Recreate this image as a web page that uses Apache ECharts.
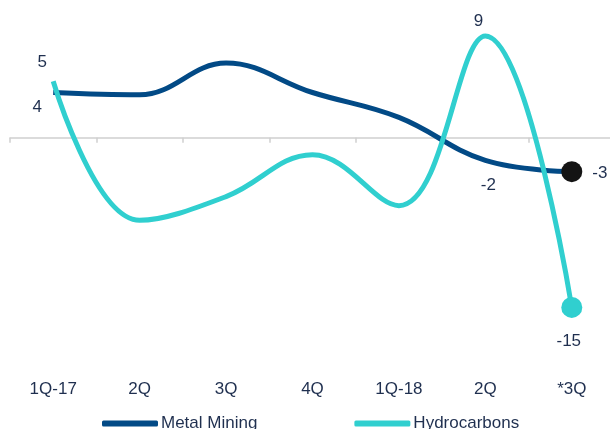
<!DOCTYPE html>
<html>
<head>
<meta charset="utf-8">
<script src="https://cdn.jsdelivr.net/npm/echarts@6/dist/echarts.min.js"></script>
<style>
  html, body { margin: 0; padding: 0; background: #ffffff; }
  #chart { width: 610px; height: 429px; }
</style>
</head>
<body>
<div id="chart"></div>
<script>
// Quarterly change, by segment
var categories = ['1Q-17', '2Q', '3Q', '4Q', '1Q-18', '2Q', '*3Q'];
var metalMining = [4, 3.8, 6.6, 4, 1.8, -2, -3];
var hydrocarbons = [5, -7.3, -5.2, -1.5, -6, 9, -15];

// Which points carry a value label, and where it sits relative to the point
var metalLabels = { 0: [-16, 15], 5: [3, 25], 6: [28, 2] };
var hydroLabels = { 0: [-11, -19], 5: [-7, -15], 6: [-3, 34] };

var textColor = '#1f2f4f';
var font = 'Liberation Sans, Arial, sans-serif';

function buildData(values, labels, endColor) {
  return values.map(function (v, i) {
    var item = { value: v };
    var last = i === values.length - 1;
    item.symbolSize = last ? 21 : 0;
    if (last) item.itemStyle = { color: endColor, opacity: 1 };
    if (labels[i]) {
      item.label = {
        show: true,
        position: 'inside',
        offset: labels[i],
        align: 'center',
        verticalAlign: 'middle',
        formatter: String(v),
        color: textColor,
        fontSize: 17,
        fontFamily: font
      };
    }
    return item;
  });
}

var chart = echarts.init(document.getElementById('chart'), null, { renderer: 'canvas' });
chart.setOption({
  animation: false,
  backgroundColor: '#ffffff',
  grid: { left: 10, width: 605, top: 2, height: 362, containLabel: false, outerBoundsMode: 'none' },
  xAxis: [
    {
      type: 'category',
      data: categories,
      position: 'bottom',
      axisLine: { show: true, onZero: true, lineStyle: { color: '#d0d0d0', width: 1.5 } },
      axisTick: { show: true, length: 5, lineStyle: { color: '#d0d0d0', width: 1.5 } },
      axisLabel: { show: false },
      splitLine: { show: false }
    },
    {
      type: 'category',
      data: categories,
      position: 'bottom',
      axisLine: { show: false, onZero: false },
      axisTick: { show: false },
      axisLabel: { show: true, margin: 17, color: textColor, fontSize: 17, fontFamily: font },
      splitLine: { show: false }
    }
  ],
  yAxis: {
    type: 'value',
    min: -20,
    max: 12,
    show: false,
    splitLine: { show: false }
  },
  legend: {
    left: 102,
    top: 415,
    padding: 0,
    itemWidth: 56,
    itemHeight: 6,
    itemGap: 97,
    icon: 'roundRect',
    textStyle: { color: textColor, fontSize: 17, fontFamily: font, padding: [0, 0, 0, -2] },
    data: ['Metal Mining', 'Hydrocarbons']
  },
  series: [
    {
      name: 'Metal Mining',
      type: 'line',
      xAxisIndex: 0,
      smooth: 0.4,
      symbol: 'circle',
      showSymbol: true,
      color: '#024a86',
      lineStyle: { color: '#024a86', width: 5 },
      itemStyle: { color: '#024a86' },
      data: buildData(metalMining, metalLabels, '#141414')
    },
    {
      name: 'Hydrocarbons',
      type: 'line',
      xAxisIndex: 0,
      smooth: 0.4,
      symbol: 'circle',
      showSymbol: true,
      color: '#30cfcf',
      lineStyle: { color: '#30cfcf', width: 5 },
      itemStyle: { color: '#30cfcf' },
      data: buildData(hydrocarbons, hydroLabels, '#30cfcf')
    }
  ]
});
</script>
</body>
</html>
